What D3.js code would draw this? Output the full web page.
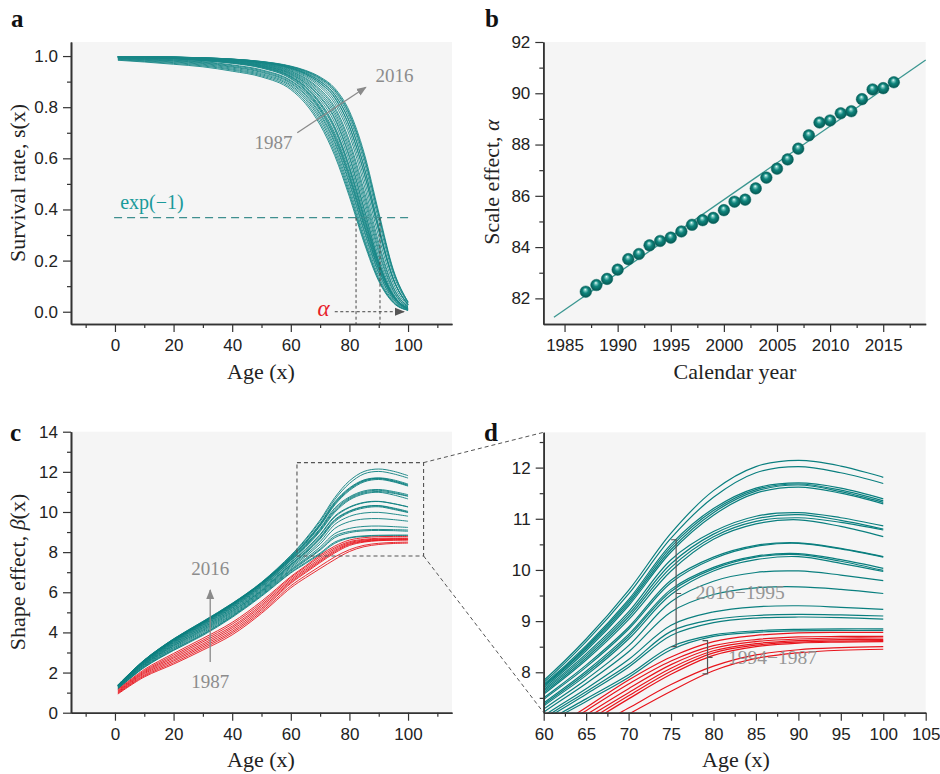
<!DOCTYPE html>
<html>
<head>
<meta charset="utf-8">
<script src="https://cdn.jsdelivr.net/npm/d3@7"></script>
<style>
  body { margin: 0; background: #fff; }
  svg { display: block; }
</style>
</head>
<body>
<svg id="chart" width="940" height="774"></svg>
<script>
// ---------------- data ----------------
const years = [1987, 1988, 1989, 1990, 1991, 1992, 1993, 1994, 1995, 1996,
               1997, 1998, 1999, 2000, 2001, 2002, 2003, 2004, 2005, 2006,
               2007, 2008, 2009, 2010, 2011, 2012, 2013, 2014, 2015, 2016];

// scale effect (alpha) per calendar year
const alphaValues = [82.26, 82.52, 82.76, 83.12, 83.53, 83.73, 84.07, 84.24, 84.37, 84.61,
                     84.87, 85.05, 85.14, 85.44, 85.77, 85.85, 86.29, 86.71, 87.06, 87.42,
                     87.84, 88.36, 88.86, 88.94, 89.22, 89.30, 89.77, 90.15, 90.20, 90.43];

// linear trend of alpha
const fitYears = [1984, 2019];
const fitValues = [81.26, 91.30];

// ages at which the shape effect beta(x) is tabulated
const ages = [1, 10, 20, 30, 40, 50, 60, 65, 70, 75, 80, 85, 90, 95, 100];

// shape effect beta(x), one row per calendar year (1987 ... 2016)
const betaByYear = [
  [0.93, 1.78, 2.42, 3.12, 3.88, 4.95, 6.22, 6.72, 7.18, 7.63, 8.03, 8.27, 8.38, 8.43, 8.45],
  [0.96, 1.83, 2.49, 3.20, 3.97, 5.03, 6.32, 6.83, 7.30, 7.76, 8.12, 8.34, 8.44, 8.48, 8.50],
  [0.99, 1.88, 2.57, 3.28, 4.05, 5.12, 6.44, 6.97, 7.48, 7.96, 8.33, 8.50, 8.57, 8.59, 8.60],
  [1.02, 1.94, 2.64, 3.36, 4.14, 5.20, 6.50, 7.03, 7.54, 8.02, 8.38, 8.53, 8.59, 8.61, 8.62],
  [1.05, 1.99, 2.72, 3.44, 4.23, 5.29, 6.57, 7.10, 7.60, 8.08, 8.42, 8.56, 8.62, 8.64, 8.64],
  [1.08, 2.04, 2.79, 3.53, 4.31, 5.37, 6.64, 7.17, 7.68, 8.15, 8.47, 8.60, 8.65, 8.67, 8.67],
  [1.12, 2.09, 2.87, 3.61, 4.41, 5.46, 6.72, 7.25, 7.77, 8.22, 8.52, 8.64, 8.69, 8.70, 8.70],
  [1.15, 2.15, 2.95, 3.70, 4.50, 5.55, 6.78, 7.31, 7.85, 8.30, 8.60, 8.72, 8.77, 8.78, 8.78],
  [1.18, 2.25, 3.10, 3.85, 4.75, 5.80, 6.96, 7.43, 7.90, 8.44, 8.70, 8.78, 8.81, 8.82, 8.82],
  [1.19, 2.27, 3.13, 3.89, 4.79, 5.84, 7.00, 7.48, 7.95, 8.50, 8.73, 8.81, 8.84, 8.85, 8.85],
  [1.20, 2.30, 3.17, 3.93, 4.82, 5.88, 7.06, 7.57, 8.10, 8.72, 8.97, 9.06, 9.08, 9.07, 9.04],
  [1.22, 2.33, 3.22, 3.99, 4.87, 5.93, 7.10, 7.62, 8.15, 8.80, 9.03, 9.11, 9.13, 9.12, 9.10],
  [1.24, 2.36, 3.26, 4.05, 4.92, 5.98, 7.15, 7.68, 8.25, 8.92, 9.18, 9.28, 9.30, 9.27, 9.23],
  [1.25, 2.39, 3.31, 4.10, 4.97, 6.02, 7.22, 7.78, 8.40, 9.18, 9.52, 9.65, 9.67, 9.62, 9.54],
  [1.26, 2.41, 3.34, 4.14, 5.02, 6.06, 7.28, 7.86, 8.52, 9.38, 9.78, 9.95, 9.98, 9.90, 9.79],
  [1.28, 2.43, 3.38, 4.19, 5.06, 6.09, 7.34, 7.94, 8.65, 9.52, 9.98, 10.20, 10.26, 10.13, 9.97],
  [1.29, 2.46, 3.41, 4.23, 5.11, 6.13, 7.37, 7.98, 8.70, 9.58, 10.02, 10.25, 10.30, 10.17, 9.99],
  [1.30, 2.48, 3.45, 4.27, 5.15, 6.18, 7.40, 8.02, 8.74, 9.62, 10.05, 10.27, 10.32, 10.20, 10.03],
  [1.31, 2.50, 3.48, 4.31, 5.20, 6.23, 7.47, 8.10, 8.84, 9.75, 10.22, 10.46, 10.52, 10.41, 10.25],
  [1.32, 2.52, 3.51, 4.35, 5.23, 6.27, 7.50, 8.14, 8.88, 9.80, 10.25, 10.48, 10.53, 10.42, 10.26],
  [1.33, 2.54, 3.54, 4.38, 5.27, 6.31, 7.57, 8.24, 9.03, 9.98, 10.60, 10.90, 10.98, 10.85, 10.65],
  [1.34, 2.55, 3.56, 4.41, 5.30, 6.34, 7.60, 8.28, 9.08, 10.05, 10.65, 10.95, 11.02, 10.93, 10.78],
  [1.35, 2.57, 3.59, 4.44, 5.33, 6.37, 7.63, 8.32, 9.13, 10.12, 10.70, 11.00, 11.08, 10.97, 10.80],
  [1.35, 2.58, 3.60, 4.46, 5.35, 6.40, 7.66, 8.36, 9.18, 10.20, 10.75, 11.05, 11.12, 11.02, 10.86],
  [1.36, 2.59, 3.62, 4.48, 5.38, 6.42, 7.69, 8.42, 9.30, 10.35, 11.07, 11.50, 11.62, 11.50, 11.29],
  [1.36, 2.60, 3.63, 4.49, 5.39, 6.44, 7.72, 8.46, 9.34, 10.40, 11.12, 11.54, 11.66, 11.53, 11.32],
  [1.37, 2.61, 3.65, 4.51, 5.41, 6.45, 7.74, 8.49, 9.38, 10.45, 11.16, 11.57, 11.68, 11.56, 11.35],
  [1.37, 2.61, 3.66, 4.52, 5.42, 6.47, 7.76, 8.52, 9.42, 10.50, 11.20, 11.60, 11.70, 11.60, 11.39],
  [1.38, 2.62, 3.67, 4.54, 5.44, 6.48, 7.80, 8.60, 9.53, 10.62, 11.42, 11.90, 12.02, 11.90, 11.69],
  [1.38, 2.63, 3.68, 4.55, 5.45, 6.50, 7.84, 8.65, 9.60, 10.72, 11.55, 12.02, 12.14, 12.03, 11.81]
];

// years up to this one are drawn in red
const lastRedYear = 1994;

// tick values
const ageTicks = [0, 20, 40, 60, 80, 100];
const ageMinor = [-10, 10, 30, 50, 70, 90, 110];
const survTicks = [0, 0.2, 0.4, 0.6, 0.8, 1.0];
const survMinor = [0.1, 0.3, 0.5, 0.7, 0.9];
const yearTicks = [1985, 1990, 1995, 2000, 2005, 2010, 2015];
const yearMinor = [1987.5, 1992.5, 1997.5, 2002.5, 2007.5, 2012.5, 2017.5];
const alphaTicks = [82, 84, 86, 88, 90, 92];
const alphaMinor = [83, 85, 87, 89, 91];
const betaTicks = [0, 2, 4, 6, 8, 10, 12, 14];
const betaMinor = [1, 3, 5, 7, 9, 11, 13];
const zoomAgeTicks = [60, 65, 70, 75, 80, 85, 90, 95, 100, 105];
const zoomAgeMinor = [62.5, 67.5, 72.5, 77.5, 82.5, 87.5, 92.5, 97.5, 102.5];
const zoomBetaTicks = [8, 9, 10, 11, 12];
const zoomBetaMinor = [7.5, 8.5, 9.5, 10.5, 11.5, 12.5];

// ---------------- styling ----------------
const TEAL = "#0a7f7f";
const TEAL_A = "#178787";
const RED = "#e8141c";
const NOTE = "#8c8c8c";
const AXIS = "#333333";
const BG = "#f5f5f5";
const SERIF = '"Liberation Serif", "Times New Roman", serif';
const NARROW = '"Liberation Sans Narrow", "Arial Narrow", "Liberation Sans", sans-serif';

const svg = d3.select("#chart");
const defs = svg.append("defs");

// sphere-like marker fill
const grad = defs.append("radialGradient").attr("id", "ball")
  .attr("cx", "50%").attr("cy", "50%").attr("r", "55%")
  .attr("fx", "45%").attr("fy", "30%");
grad.append("stop").attr("offset", "0%").attr("stop-color", "#f2fffd");
grad.append("stop").attr("offset", "18%").attr("stop-color", "#7cc8c1");
grad.append("stop").attr("offset", "45%").attr("stop-color", "#0f857d");
grad.append("stop").attr("offset", "100%").attr("stop-color", "#04504b");

// arrowheads
function marker(id, color) {
  defs.append("marker").attr("id", id)
    .attr("viewBox", "0 0 10 10").attr("refX", 9).attr("refY", 5)
    .attr("markerWidth", 10).attr("markerHeight", 10)
    .attr("markerUnits", "userSpaceOnUse")
    .attr("orient", "auto")
    .append("path").attr("d", "M0,1 L10,5 L0,9 Z").attr("fill", color);
}
marker("arrowGray", "#8a8a8a");
marker("arrowDark", "#555555");

function background(x, y) {
  const [x0, x1] = x.range();
  const [y0, y1] = y.range();
  svg.append("rect").attr("x", x0).attr("y", y1)
    .attr("width", x1 - x0).attr("height", y0 - y1).attr("fill", BG);
}

function styleAxis(g) {
  g.select(".domain").attr("stroke", AXIS).attr("stroke-width", 1.6);
  g.selectAll(".tick line").attr("stroke", AXIS).attr("stroke-width", 1.2);
  g.selectAll(".tick text").attr("fill", "#222")
    .attr("font-family", NARROW).attr("font-size", 17);
}

function axes(x, y, xMajor, xMinor, yMajor, yMinor, xFmt, yFmt) {
  const yb = y.range()[0];
  const xl = x.range()[0];
  svg.append("g").attr("transform", `translate(0,${yb})`)
    .call(d3.axisBottom(x).tickValues(xMinor).tickSize(4).tickSizeOuter(0).tickFormat(""))
    .call(styleAxis);
  svg.append("g").attr("transform", `translate(0,${yb})`)
    .call(d3.axisBottom(x).tickValues(xMajor).tickSize(8).tickSizeOuter(0).tickPadding(7).tickFormat(xFmt))
    .call(styleAxis);
  svg.append("g").attr("transform", `translate(${xl},0)`)
    .call(d3.axisLeft(y).tickValues(yMinor).tickSize(4).tickSizeOuter(0).tickFormat(""))
    .call(styleAxis);
  svg.append("g").attr("transform", `translate(${xl},0)`)
    .call(d3.axisLeft(y).tickValues(yMajor).tickSize(8).tickSizeOuter(0).tickPadding(5).tickFormat(yFmt))
    .call(styleAxis);
}

function xTitle(text, cx, baseline) {
  svg.append("text").attr("x", cx).attr("y", baseline)
    .attr("text-anchor", "middle").attr("font-family", SERIF)
    .attr("font-size", 22).attr("fill", "#222").text(text);
}

function yTitle(parts, baselineX, cy) {
  const t = svg.append("text")
    .attr("transform", `translate(${baselineX},${cy}) rotate(-90)`)
    .attr("text-anchor", "middle").attr("font-family", SERIF)
    .attr("font-size", 22).attr("fill", "#222");
  parts.forEach(p => {
    const s = t.append("tspan").text(p.t);
    if (p.i) s.attr("font-style", "italic");
  });
}

function panelLetter(letter, x, y) {
  svg.append("text").attr("x", x).attr("y", y)
    .attr("font-family", SERIF).attr("font-weight", "bold")
    .attr("font-size", 25).attr("fill", "#111").text(letter);
}

function note(text, x, y, anchor, size) {
  return svg.append("text").attr("x", x).attr("y", y)
    .attr("text-anchor", anchor || "start").attr("font-family", SERIF)
    .attr("font-size", size || 19).attr("fill", NOTE).text(text);
}

const fmt1 = d3.format(".1f");
const fmtInt = d3.format("d");
const isRed = yr => yr <= lastRedYear;
const smooth = d3.curveCatmullRom.alpha(0.5);

// ================= panel a: survival rate =================
const xA = d3.scaleLinear().domain([-15, 115]).range([71, 452]);
const yA = d3.scaleLinear().domain([-0.048, 1.055]).range([324, 42]);
background(xA, yA);

// s(x) = exp(-(x / alpha)^beta(x))
const survival = years.map((yr, i) => ages.map((a, j) =>
  [a, Math.exp(-Math.pow(a / alphaValues[i], betaByYear[i][j]))]));

const lineA = d3.line().x(d => xA(d[0])).y(d => yA(d[1])).curve(d3.curveMonotoneX);
svg.append("g").selectAll("path").data(survival).join("path")
  .attr("d", lineA).attr("fill", "none")
  .attr("stroke", TEAL_A).attr("stroke-width", 0.9);

// threshold s = exp(-1)
const sCut = Math.exp(-1);
svg.append("line")
  .attr("x1", xA(-0.3)).attr("x2", xA(101.3))
  .attr("y1", yA(sCut)).attr("y2", yA(sCut))
  .attr("stroke", "#3f8f8f").attr("stroke-width", 1.2).attr("stroke-dasharray", "8,5");
svg.append("text").attr("x", xA(1.8)).attr("y", yA(sCut) - 9)
  .attr("font-family", SERIF).attr("font-size", 20).attr("fill", "#1b9a9a").text("exp(−1)");

// alpha of first and last year
[alphaValues[0], alphaValues[alphaValues.length - 1]].forEach(a => {
  svg.append("line")
    .attr("x1", xA(a)).attr("x2", xA(a))
    .attr("y1", yA(sCut)).attr("y2", yA.range()[0])
    .attr("stroke", "#444").attr("stroke-width", 1).attr("stroke-dasharray", "3,2.5");
});
svg.append("line")
  .attr("x1", xA(75)).attr("x2", xA(98.6))
  .attr("y1", yA(0)).attr("y2", yA(0))
  .attr("stroke", "#444").attr("stroke-width", 1).attr("stroke-dasharray", "3,2.5")
  .attr("marker-end", "url(#arrowDark)");
svg.append("text").attr("x", xA(73.2)).attr("y", yA(0) + 4)
  .attr("text-anchor", "end").attr("font-family", SERIF).attr("font-style", "italic")
  .attr("font-size", 23).attr("fill", "#e8202a").text("α");

// 1987 -> 2016 arrow
svg.append("line")
  .attr("x1", xA(62.2)).attr("y1", yA(0.70))
  .attr("x2", xA(85.6)).attr("y2", yA(0.878))
  .attr("stroke", "#8a8a8a").attr("stroke-width", 1.3)
  .attr("marker-end", "url(#arrowGray)");
note(String(years[0]), xA(60.6), yA(0.636), "end");
note(String(years[years.length - 1]), xA(88.9), yA(0.898), "start");

axes(xA, yA, ageTicks, ageMinor, survTicks, survMinor, fmtInt, fmt1);
xTitle("Age (x)", 261, 379);
yTitle([{ t: "Survival rate, s(x)" }], 25, 183);
panelLetter("a", 11, 27);

// ================= panel b: scale effect =================
const xB = d3.scaleLinear().domain([1983, 2019]).range([543.3, 925.7]);
const yB = d3.scaleLinear().domain([81, 92]).range([324, 42]);
background(xB, yB);

svg.append("path")
  .datum(fitYears.map((yr, i) => [yr, fitValues[i]]))
  .attr("d", d3.line().x(d => xB(d[0])).y(d => yB(d[1])))
  .attr("fill", "none").attr("stroke", "#3a9690").attr("stroke-width", 1.3);

svg.append("g").selectAll("circle").data(years).join("circle")
  .attr("cx", d => xB(d)).attr("cy", (d, i) => yB(alphaValues[i]))
  .attr("r", 5.8).attr("fill", "url(#ball)")
  .attr("stroke", "#0a6a64").attr("stroke-width", 0.5);

axes(xB, yB, yearTicks, yearMinor, alphaTicks, alphaMinor, fmtInt, fmtInt);
xTitle("Calendar year", 735, 379);
yTitle([{ t: "Scale effect, " }, { t: "α", i: true }], 499, 182);
panelLetter("b", 485, 27);

// ================= panel c: shape effect =================
const xC = d3.scaleLinear().domain([-15, 115]).range([71, 452]);
const yC = d3.scaleLinear().domain([0, 14]).range([712.7, 431.7]);
background(xC, yC);

const betaSeries = years.map((yr, i) => ({ yr, pts: ages.map((a, j) => [a, betaByYear[i][j]]) }));
const tealSeries = betaSeries.filter(s => !isRed(s.yr));
const redSeries = betaSeries.filter(s => isRed(s.yr));

const lineC = d3.line().x(d => xC(d[0])).y(d => yC(d[1])).curve(smooth);
svg.append("g").selectAll("path").data(tealSeries).join("path")
  .attr("d", d => lineC(d.pts)).attr("fill", "none")
  .attr("stroke", TEAL).attr("stroke-width", 0.9);
svg.append("g").selectAll("path").data(redSeries).join("path")
  .attr("d", d => lineC(d.pts)).attr("fill", "none")
  .attr("stroke", RED).attr("stroke-width", 0.9);

// 1987 -> 2016 arrow
svg.append("line")
  .attr("x1", xC(32.5)).attr("y1", yC(2.53))
  .attr("x2", xC(32.5)).attr("y2", yC(6.11))
  .attr("stroke", "#8a8a8a").attr("stroke-width", 1.3)
  .attr("marker-end", "url(#arrowGray)");
note(String(years[years.length - 1]), xC(32.5), yC(6.86), "middle");
note(String(years[0]), xC(32.5), yC(1.23), "middle");

// region shown enlarged in panel d
const zoomBox = { x0: 62.1, x1: 105.3, y0: 7.81, y1: 12.46 };
svg.append("rect")
  .attr("x", xC(zoomBox.x0)).attr("y", yC(zoomBox.y1))
  .attr("width", xC(zoomBox.x1) - xC(zoomBox.x0))
  .attr("height", yC(zoomBox.y0) - yC(zoomBox.y1))
  .attr("fill", "none").attr("stroke", "#555").attr("stroke-width", 1.1)
  .attr("stroke-dasharray", "4,3");

axes(xC, yC, ageTicks, ageMinor, betaTicks, betaMinor, fmtInt, fmtInt);
xTitle("Age (x)", 261, 767);
yTitle([{ t: "Shape effect, " }, { t: "β", i: true }, { t: "(x)" }], 25, 572);
panelLetter("c", 10, 441);

// ================= panel d: enlarged shape effect =================
const xD = d3.scaleLinear().domain([60, 105]).range([543.7, 925.7]);
const yD = d3.scaleLinear().domain([7.21, 12.69]).range([712.7, 432.3]);
background(xD, yD);

defs.append("clipPath").attr("id", "clipD").append("rect")
  .attr("x", xD.range()[0]).attr("y", yD.range()[1])
  .attr("width", xD.range()[1] - xD.range()[0])
  .attr("height", yD.range()[0] - yD.range()[1]);

const lineD = d3.line().x(d => xD(d[0])).y(d => yD(d[1])).curve(smooth);
const gD = svg.append("g").attr("clip-path", "url(#clipD)");
gD.append("g").selectAll("path").data(tealSeries).join("path")
  .attr("d", d => lineD(d.pts)).attr("fill", "none")
  .attr("stroke", TEAL).attr("stroke-width", 1.2);
gD.append("g").selectAll("path").data(redSeries).join("path")
  .attr("d", d => lineD(d.pts)).attr("fill", "none")
  .attr("stroke", RED).attr("stroke-width", 1.2);

// brace-style group markers
function bracket(ageX, top, bottom, mid) {
  const x = xD(ageX);
  svg.append("path")
    .attr("d", `M${x - 5},${yD(top)} H${x} V${yD(bottom)} H${x - 5} M${x},${yD(mid)} H${x + 5}`)
    .attr("fill", "none").attr("stroke", "#555").attr("stroke-width", 1.2);
}
bracket(75.6, 10.59, 8.50, 9.54);
bracket(79.3, 8.62, 7.97, 8.29);
note(`${years[years.length - 1]}−${years.find(y => !isRed(y))}`, xD(77.9), yD(9.43), "start", 19.5)
  .attr("opacity", 0.9);
note(`${lastRedYear}−${years[0]}`, xD(81.7), yD(8.16), "start", 19.5)
  .attr("opacity", 0.9);

axes(xD, yD, zoomAgeTicks, zoomAgeMinor, zoomBetaTicks, zoomBetaMinor, fmtInt, fmtInt);
xTitle("Age (x)", 736, 767);
panelLetter("d", 484, 441);

// dashed connectors from the box in c to panel d
[[zoomBox.y1, yD.range()[1]], [zoomBox.y0, yD.range()[0]]].forEach(([by, dy]) => {
  svg.append("line")
    .attr("x1", xC(zoomBox.x1)).attr("y1", yC(by))
    .attr("x2", xD.range()[0]).attr("y2", dy)
    .attr("stroke", "#555").attr("stroke-width", 1)
    .attr("stroke-dasharray", "4,3");
});
</script>
</body>
</html>
